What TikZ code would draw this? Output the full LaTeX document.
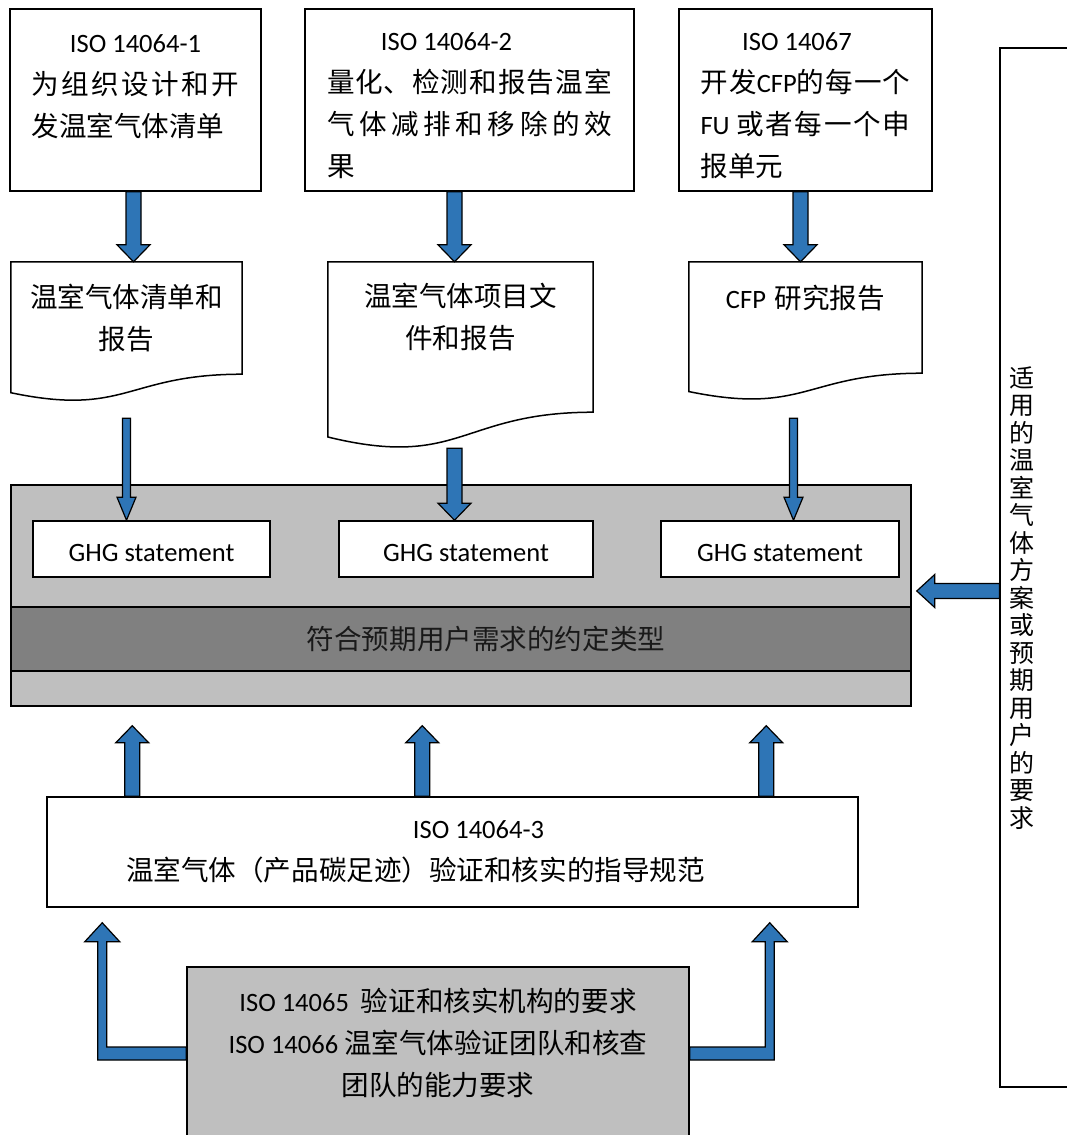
\documentclass[tikz,border=0pt]{standalone}
\usepackage{fontspec}
\setmainfont{Carlito}
\newfontfamily\zhfont[Scale=1.04]{Noto Sans CJK SC}
\usetikzlibrary{positioning,calc}
\definecolor{arrowblue}{RGB}{46,117,182}
\definecolor{lightgrey}{RGB}{191,191,191}
\definecolor{midgrey}{RGB}{128,128,128}
\XeTeXlinebreaklocale "zh"
\XeTeXlinebreakskip=0pt
\setlength{\parindent}{0pt}

\tikzset{
  block/.style n args={3}{draw=black,line width=1.2pt,fill=arrowblue,to path={
    let \p1=(\tikztostart),\p2=(\tikztotarget),\n1={ifthenelse(\y2>\y1,-1,1)*#3} in
    ({\x1-#1*1pt},\y1) -- ({\x1-#1*1pt},{\y2+(\n1)*1pt}) -- ({\x1-#2*1pt},{\y2+(\n1)*1pt})
    -- (\x1,\y2) -- ({\x1+#2*1pt},{\y2+(\n1)*1pt}) -- ({\x1+#1*1pt},{\y2+(\n1)*1pt})
    -- ({\x1+#1*1pt},\y1) -- cycle}},
  fat/.style={block={7.5}{16.5}{17}},
  slim/.style={block={4}{9.5}{23}},
  leftfat/.style={draw=black,line width=1.2pt,fill=arrowblue,to path={
    let \p1=(\tikztostart),\p2=(\tikztotarget) in
    (\x1,{\y1+7.5pt}) -- ({\x2+18pt},{\y1+7.5pt}) -- ({\x2+18pt},{\y1+16.5pt}) -- (\x2,\y1)
    -- ({\x2+18pt},{\y1-16.5pt}) -- ({\x2+18pt},{\y1-7.5pt}) -- (\x1,{\y1-7.5pt}) -- cycle}},
  elbow/.style={draw=black,line width=1.2pt,fill=arrowblue,to path={
    let \p1=(\tikztostart),\p2=(\tikztotarget),\n1={ifthenelse(\x2<\x1,1,-1)} in
    (\x1,{\y1+6.5pt}) -- ({\x2+(\n1)*4.5pt},{\y1+6.5pt}) -- ({\x2+(\n1)*4.5pt},{\y2-19pt})
    -- ({\x2+(\n1)*17.5pt},{\y2-19pt}) -- (\x2,\y2) -- ({\x2-(\n1)*17.5pt},{\y2-19pt})
    -- ({\x2-(\n1)*4.5pt},{\y2-19pt}) -- ({\x2-(\n1)*4.5pt},{\y1-6.5pt}) -- (\x1,{\y1-6.5pt}) -- cycle}}
}

\newcommand{\docframe}[1]{%
  \draw[line width=1.5pt] let \p1=(#1.north west), \p2=(#1.south east), \n1={\y1-\y2} in
    (\p1) -- (\x2,\y1) -- (\p2)
    .. controls ({(\x1+\x2)/2},\y2) and ({(\x1+\x2)/2},{\y2-0.381*\n1}) ..
    (\x1,{\y2-0.1647*\n1}) -- cycle;}

\begin{document}
\begin{tikzpicture}[x=1pt,y=-1pt,font=\fontsize{26.5}{42}\selectfont]
\tikzstyle{isobox}=[rectangle,draw,line width=1.6pt,minimum height=182pt,inner sep=0pt,align=justify,
  execute at begin node={\XeTeXlinebreakskip=0pt plus 8pt}]
\tikzstyle{report}=[rectangle,inner sep=0pt,align=center]
\tikzstyle{ghg}=[rectangle,draw,line width=1.6pt,fill=white,minimum height=56pt,text height=25pt]
\tikzstyle{greybox}=[rectangle,draw,line width=1.5pt,fill=lightgrey]
\useasboundingbox (0,0) rectangle (1067,1135);

\node[isobox,minimum width=251pt,text width=208pt] (iso1) at (135.5,100)
  {{\centering\rule{0pt}{30pt}ISO 14064-1\par}{\zhfont 为组织设计和开\linebreak 发温室气体清单}\par\mbox{}};
\node[isobox,minimum width=329pt,text width=285pt] (iso2) [right of=iso1,node distance=334pt]
  {{\centering\rule{0pt}{30pt}ISO 14064-2\hspace*{46pt}\par}{\zhfont 量化、检测和报告温室\linebreak 气体减排和移除的效\linebreak 果}};
\node[isobox,minimum width=253pt,text width=210pt] (iso3) [right of=iso2,node distance=336pt]
  {{\centering\rule{0pt}{30pt}ISO 14067\hspace*{17pt}\par}{\zhfont 开发}CFP{\zhfont 的每一个}\linebreak FU {\zhfont 或者每一个申\linebreak 报单元}};

\node[report,text width=231pt,minimum height=112pt] (doc1) at (126.5,318) {\zhfont 温室气体清单和\\报告};
\node[report,text width=265pt,minimum height=150pt] (doc2) at (460.5,337) {\zhfont 温室气体项目文\\件和报告\\~};
\node[report,text width=233pt,minimum height=111pt] (doc3) at (805.5,317.5) {CFP {\zhfont 研究报告}\\~};
\docframe{doc1}
\docframe{doc2}
\docframe{doc3}

\node[greybox,minimum width=900pt,minimum height=221pt] (panel) at (461,595.5) {};
\node[rectangle,draw,line width=1.5pt,fill=midgrey,minimum width=900pt,minimum height=64pt,text=black!90] (band) at (461,639)
  {\hspace*{50pt}{\zhfont 符合预期用户需求的约定类型}};
\node[ghg,minimum width=237pt] (ghg1) at (151.5,549) {GHG statement};
\node[ghg,minimum width=254pt] (ghg2) [right of=ghg1,node distance=314.5pt] {GHG statement};
\node[ghg,minimum width=238pt] (ghg3) [right of=ghg2,node distance=314pt] {GHG statement};

\node[rectangle,draw,line width=1.5pt,minimum width=811pt,minimum height=110pt,align=center] (verif) at (452.5,852)
  {\hspace*{52pt}ISO 14064-3\\{\zhfont 温室气体（产品碳足迹）验证和核实的指导规范}\hspace*{74pt}};
\node[greybox,minimum width=502pt,minimum height=173pt] (cert) at (438,1053.5) {};
\node[align=center] (certtext) at ($(cert)+(0,-11)$)
  {ISO 14065\ \ {\zhfont 验证和核实机构的要求}\\ISO 14066 {\zhfont 温室气体验证团队和核查}\\{\zhfont 团队的能力要求}};

\node[rectangle,draw,line width=1.2pt,minimum width=90pt,minimum height=1039pt] (req) at (1045,567.5) {};
\node[font=\zhfont\fontsize{24}{27.5}\selectfont,align=center] (reqtext) at (1022,598)
  {适\\用\\的\\温\\室\\气\\体\\方\\案\\或\\预\\期\\用\\户\\的\\要\\求};

\coordinate (ltip) at ($(verif.south west)+(56,15)$);
\coordinate (rtip) at ($(verif.south east)+(-89,15)$);

\path
($(iso1.south)+(-2,0)$) edge[fat] (doc1.north)
($(iso2.south)+(-15,0)$) edge[fat] (doc2.north)
($(iso3.south)+(-5,0)$) edge[fat] (doc3.north)
($(doc1.south)+(0,44)$) edge[slim] (ghg1.north)
($(doc2.south)+(-6,36)$) edge[fat] (ghg2.north)
($(doc3.south)+(-12,45)$) edge[slim] (ghg3.north)
($(verif.north west)+(86,0)$) edge[fat] ($(panel.south)+(0,19)$)
($(verif.north west)+(376,0)$) edge[fat] ($(panel.south)+(0,19)$)
($(verif.north west)+(720,0)$) edge[fat] ($(panel.south)+(0,19)$)
($(req.west)+(0,23.5)$) edge[leftfat] ([xshift=5pt]panel.east)
(cert.west) edge[elbow] (ltip)
(cert.east) edge[elbow] (rtip);
\end{tikzpicture}
\end{document}
